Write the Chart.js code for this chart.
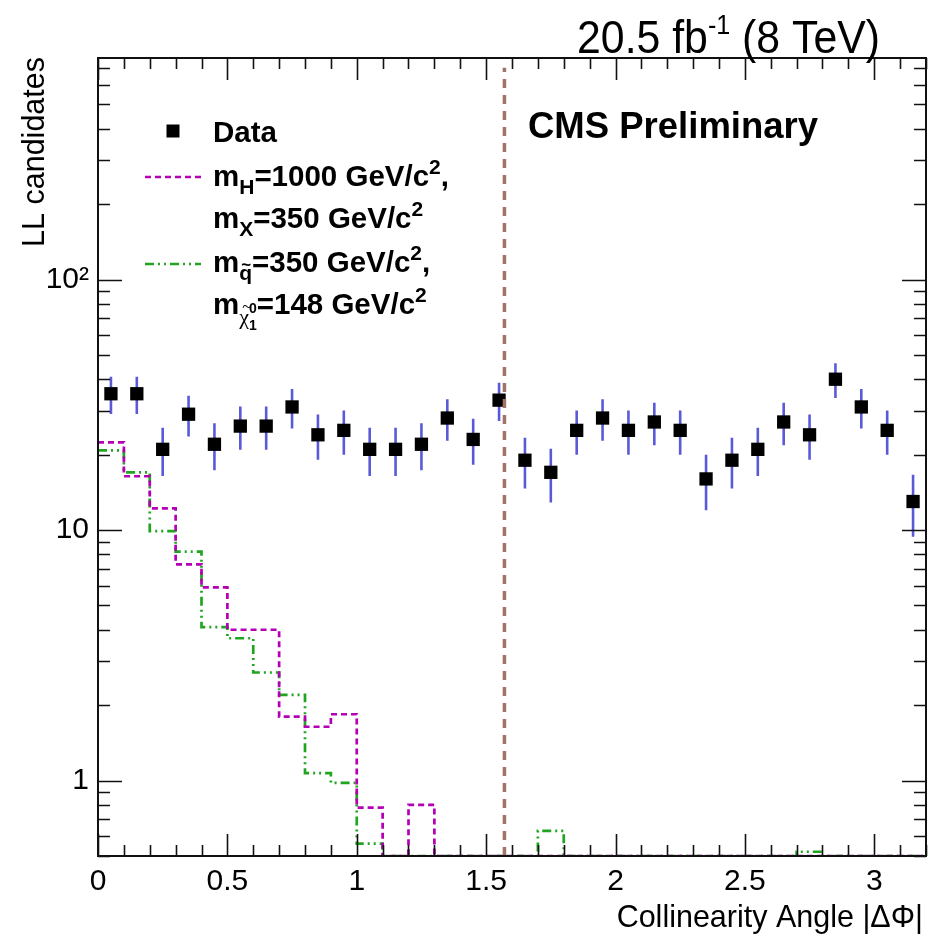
<!DOCTYPE html>
<html><head><meta charset="utf-8">
<script src="https://cdn.jsdelivr.net/npm/chart.js@4.4.1/dist/chart.umd.min.js"></script>
<style>html,body{margin:0;padding:0;background:#fff;} #wrap{width:930px;height:935px;position:relative;}</style>
</head><body><div id="wrap"><canvas id="c" width="930" height="935"></canvas></div>
<script>
// ---- data ----
const binLowEdges = [0.0,0.1,0.2,0.3,0.4,0.5,0.6,0.7,0.8,0.9,1.0,1.1,1.2,1.3,1.4,1.5,
                     1.6,1.7,1.8,1.9,2.0,2.1,2.2,2.3,2.4,2.5,2.6,2.7,2.8,2.9,3.0,3.1];
const binUpperEdge = 3.2;
const binCenters = [0.05,0.15,0.25,0.35,0.45,0.55,0.65,0.75,0.85,0.95,1.05,1.15,1.25,1.35,1.45,1.55,
                    1.65,1.75,1.85,1.95,2.05,2.15,2.25,2.35,2.45,2.55,2.65,2.75,2.85,2.95,3.05,3.15];
const dataCounts = [35,35,21,29,22,26,26,31,24,25,21,21,22,28,23,33,
                    19,17,25,28,25,27,25,16,19,21,27,24,40,31,25,13];
const sigHiggs  = [22.4,16.4,12.2,7.3,5.9,4.0,4.0,1.8,1.64,1.84,0.78,0,0.80,0,0,0,
                   0,0,0,0,0,0,0,0,0,0,0,0,0,0,0,0];
const sigSquark = [20.8,17.0,9.9,8.2,4.1,3.7,2.7,2.2,1.07,0.98,0.56,0,0,0,0,0,
                   0,0.63,0,0,0,0,0,0,0,0,0,0.52,0,0,0,0];
const xTickValues = [0,0.5,1,1.5,2,2.5,3];
const xTickLabels = ['0','0.5','1','1.5','2','2.5','3'];
const yTickValues = [1,10,100];
const yTickLabels = ['1','10','10\u00B2'];
const cutValue = 1.5708;          // |ΔΦ| = π/2 line
const cutLineTop = 700;
const Y_MIN = 0.5, Y_MAX = 766, X_MIN = 0, X_MAX = 3.2;

// ---- build datasets ----
const clampY = v => Math.max(v, Y_MIN);
function stepData(vals){
  const pts = binLowEdges.map((x,i)=>({x:x, y:clampY(vals[i])}));
  pts.push({x:binUpperEdge, y:clampY(vals[vals.length-1])});
  return pts;
}
const dataPts = binCenters.map((x,i)=>({x:x, y:dataCounts[i]}));
const errPts = [];
binCenters.forEach((x,i)=>{
  const n = dataCounts[i], e = Math.sqrt(n);
  errPts.push({x:x, y:n-e}); errPts.push({x:x, y:n+e}); errPts.push({x:x, y:NaN});
});

const FONT = '"Liberation Sans", Arial, Helvetica, sans-serif';
const AREA = {left:98, right:926, top:58, bottom:856};

function drawRich(ctx, x, y, parts, align, sx){
  sx = sx || 1;
  let w = 0;
  parts.forEach(p=>{ ctx.font = (p.b?'bold ':'') + p.s + 'px ' + (p.fam||FONT); p.w = ctx.measureText(p.t).width; if(!p.noadv) w += p.w; });
  w *= sx;
  let start = align==='right' ? x - w : x;
  ctx.save();
  ctx.translate(start, y); ctx.scale(sx, 1);
  let cx = 0;
  ctx.textAlign='left'; ctx.textBaseline='alphabetic';
  parts.forEach(p=>{
    ctx.font = (p.b?'bold ':'') + p.s + 'px ' + (p.fam||FONT);
    ctx.fillText(p.t, cx + (p.dx||0), (p.dy||0));
    if(!p.noadv) cx += p.w;
  });
  ctx.restore();
}

// place the plot frame exactly where the reference has it
const snapPlugin = {
  id:'snap',
  afterLayout(chart){
    const a = chart.chartArea, xs = chart.scales.x, ys = chart.scales.y;
    a.left = AREA.left; a.right = AREA.right; a.top = AREA.top; a.bottom = AREA.bottom;
    a.width = AREA.right - AREA.left; a.height = AREA.bottom - AREA.top;
    xs.left = AREA.left; xs.right = AREA.right; xs.width = a.width;
    xs.top = AREA.bottom; xs.bottom = chart.height; xs.height = chart.height - AREA.bottom;
    ys.top = AREA.top; ys.bottom = AREA.bottom; ys.height = a.height;
    ys.left = 0; ys.right = AREA.left; ys.width = AREA.left;
    xs.configure(); ys.configure();
  }
};

const framePlugin = {
  id:'frame',
  afterDraw(chart){
    const ctx = chart.ctx, a = chart.chartArea;
    const xs = chart.scales.x, ys = chart.scales.y;
    ctx.save();
    ctx.strokeStyle = '#111'; ctx.lineWidth = 1.6;
    ctx.beginPath();
    for(let k=0;k<=32;k++){
      const v = k/10; const px = Math.round(xs.getPixelForValue(v))+0.5;
      const len = (k%5===0)?22:11;
      ctx.moveTo(px,a.bottom); ctx.lineTo(px,a.bottom-len);
      ctx.moveTo(px,a.top); ctx.lineTo(px,a.top+len);
    }
    [0.1,1,10,100].forEach(d=>{
      for(let m=1;m<=9;m++){
        const v=m*d; if(v<Y_MIN-1e-9||v>Y_MAX) continue;
        const py = Math.round(ys.getPixelForValue(v))+0.5;
        const len = (m===1)?24:12;
        ctx.moveTo(a.left,py); ctx.lineTo(a.left+len,py);
        ctx.moveTo(a.right,py); ctx.lineTo(a.right-len,py);
      }
    });
    ctx.stroke();
    ctx.lineWidth = 2;
    ctx.strokeRect(a.left, a.top, a.right-a.left, a.bottom-a.top);

    ctx.fillStyle='#000';
    drawRich(ctx, 880, 53, [
      {t:'20.5 fb', s:46},
      {t:'-1', s:27, dy:-19},
      {t:' (8 TeV)', s:46}
    ], 'right', 0.93);
    drawRich(ctx, 528, 138, [{t:'CMS Preliminary', s:36.5, b:true}]);
    drawRich(ctx, 923, 927, [{t:'Collinearity Angle |\u0394\u03A6|', s:30.5}], 'right');
    ctx.save();
    ctx.translate(44, 57); ctx.rotate(-Math.PI/2);
    drawRich(ctx, 0, 0, [{t:'LL candidates', s:30.5}], 'right');
    ctx.restore();

    // legend
    const LF = 29.5, SF = 21;
    ctx.fillStyle='#000';
    ctx.fillRect(173-6.5, 131-6.5, 13, 13);
    drawRich(ctx, 213, 142, [{t:'Data', s:LF, b:true}]);
    ctx.save();
    ctx.strokeStyle='#b400b4'; ctx.lineWidth=2.5; ctx.setLineDash([6,4]);
    ctx.beginPath(); ctx.moveTo(145,177); ctx.lineTo(201,177); ctx.stroke();
    ctx.strokeStyle='#1fa51f'; ctx.setLineDash([9,4,2,4,2,4]);
    ctx.beginPath(); ctx.moveTo(145,264); ctx.lineTo(201,264); ctx.stroke();
    ctx.restore();
    ctx.fillStyle='#000';
    drawRich(ctx, 213, 186, [
      {t:'m', s:LF, b:true}, {t:'H', s:SF, b:true, dy:8}, {t:'=1000 GeV/c', s:LF, b:true},
      {t:'2', s:SF, b:true, dy:-12}, {t:',', s:LF, b:true}]);
    drawRich(ctx, 213, 228, [
      {t:'m', s:LF, b:true}, {t:'X', s:SF, b:true, dy:8}, {t:'=350 GeV/c', s:LF, b:true},
      {t:'2', s:SF, b:true, dy:-12}]);
    drawRich(ctx, 213, 272, [
      {t:'m', s:LF, b:true}, {t:'~', s:17, b:true, dy:-2, dx:2, noadv:true}, {t:'q', s:SF, b:true, dy:8}, {t:'=350 GeV/c', s:LF, b:true},
      {t:'2', s:SF, b:true, dy:-12}, {t:',', s:LF, b:true}]);
    drawRich(ctx, 213, 314, [
      {t:'m', s:LF, b:true}, {t:'~', s:17, dy:-2, dx:3, noadv:true, fam:'"Liberation Serif", serif'},
      {t:'\u03C7', s:22, dy:10, fam:'"Liberation Serif", serif'},
      {t:'1', s:14, b:true, dy:16, noadv:true}, {t:'0', s:14, b:true, dy:-1},
      {t:'=148 GeV/c', s:LF, b:true},
      {t:'2', s:SF, b:true, dy:-12}]);
    ctx.restore();
  }
};

const chart = new Chart(document.getElementById('c'), {
  type:'line',
  data:{ datasets:[
    {label:'cut', data:[{x:cutValue,y:Y_MIN},{x:cutValue,y:cutLineTop}], borderColor:'#9e7566',
     borderWidth:3.5, borderDash:[9,7], pointRadius:0, fill:false},
    {label:'Data', type:'scatter', data:dataPts, pointStyle:'rect', pointRadius:9.4,
     backgroundColor:'#000', borderColor:'#000', borderWidth:0},
    {label:'err', data:errPts, borderColor:'#5a5ad8', borderWidth:2.6, pointRadius:0, spanGaps:false, fill:false},
    {label:'mH', data:stepData(sigHiggs), stepped:true, borderColor:'#b400b4', borderWidth:2.7,
     borderDash:[6,4], pointRadius:0, fill:false},
    {label:'msq', data:stepData(sigSquark), stepped:true, borderColor:'#1fa51f', borderWidth:2.7,
     borderDash:[9,4,2,4,2,4], pointRadius:0, fill:false}
  ]},
  options:{
    responsive:false, animation:false, devicePixelRatio:1,
    layout:{padding:{top:58,right:4,left:0,bottom:0}},
    plugins:{legend:{display:false}, tooltip:{enabled:false}},
    scales:{
      x:{type:'linear', min:X_MIN, max:X_MAX, position:'bottom',
         grid:{display:false, drawTicks:false}, border:{display:false},
         afterBuildTicks:s=>{ s.ticks = xTickValues.map(v=>({value:v})); },
         afterFit:s=>{ s.height = 79; s.paddingLeft = 0; s.paddingRight = 0; },
         ticks:{autoSkip:false, maxRotation:0, padding:8, color:'#000',
                font:{family:FONT, size:30},
                callback:(v)=>{ const i = xTickValues.indexOf(v); return i>=0?xTickLabels[i]:''; }}},
      y:{type:'logarithmic', min:Y_MIN, max:Y_MAX,
         grid:{display:false, drawTicks:false}, border:{display:false},
         afterBuildTicks:s=>{ s.ticks = yTickValues.map(v=>({value:v})); },
         afterFit:s=>{ s.width = 98; s.paddingTop = 0; s.paddingBottom = 0; },
         ticks:{autoSkip:false, padding:9, color:'#000', font:{family:FONT, size:30},
                callback:(v)=>{ const i = yTickValues.indexOf(v); return i>=0?yTickLabels[i]:''; }}}
    }
  },
  plugins:[snapPlugin, framePlugin]
});
</script></body></html>
